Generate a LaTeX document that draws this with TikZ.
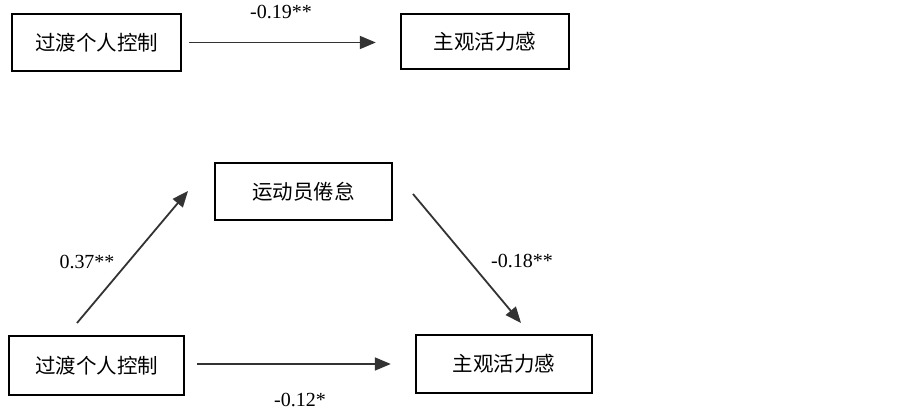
\documentclass[tikz,border=0pt]{standalone}
\usepackage{fontspec}
\setmainfont{Liberation Serif}
\newfontfamily\cjk{Noto Sans CJK SC}
\usetikzlibrary{arrows.meta}
\begin{document}
\begin{tikzpicture}[x=1pt,y=-1pt,
  box/.style={draw=black,line width=2.4pt,fill=white,inner sep=0pt,
    font=\cjk\fontsize{20.5}{24}\selectfont},
  arr/.style={draw=black!80,line width=1.8pt,-{Triangle[length=16pt,width=13pt]}},
  lbl/.style={font=\fontsize{20}{22}\selectfont,inner sep=0pt}]
\useasboundingbox (0,0) rectangle (903,411);
\fill[white] (0,0) rectangle (903,411);
% top model
\node[box,minimum width=169pt,minimum height=57pt] (tl) at (96.5,42.5) {过渡个人控制};
\node[box,minimum width=168pt,minimum height=55pt] (tr) at (485,41.5) {主观活力感};
\draw[arr] ([xshift=7pt]tl.east) -- ([xshift=-24pt]tl.east -| tr.west);
\node[lbl] (l1) at (281,11.5) {-0.19**};
% mediation model
\node[box,minimum width=177pt,minimum height=57pt] (mid) at (303.5,191.5) {运动员倦怠};
\node[box,minimum width=175pt,minimum height=59pt] (bl) at (96.5,365.5) {过渡个人控制};
\node[box,minimum width=176pt,minimum height=58pt] (br) at (504,364) {主观活力感};
\coordinate (a1s) at (77,323);
\coordinate (a1e) at (188,191);
\coordinate (a2s) at (413,194);
\coordinate (a2e) at (521,323);
\draw[arr] (a1s) -- (a1e);
\draw[arr] (a2s) -- (a2e);
\draw[arr] ([xshift=12pt,yshift=1.5pt]bl.east) -- ([xshift=-24pt,yshift=1.5pt]bl.east -| br.west);
\node[lbl] (l2) at (87,262) {0.37**};
\node[lbl] (l3) at (522,261) {-0.18**};
\node[lbl] (l4) at (300,400) {-0.12*};
\end{tikzpicture}
\end{document}
